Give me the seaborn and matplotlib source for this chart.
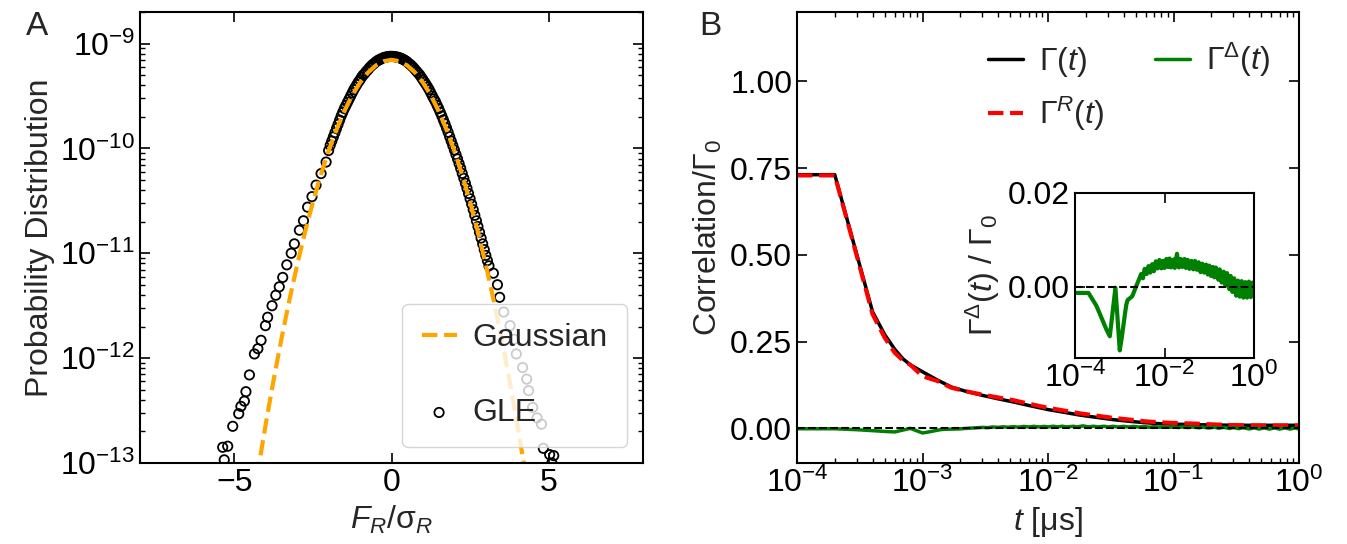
import numpy as np
import pandas as pd
import seaborn as sns
import matplotlib
import matplotlib.pyplot as plt
from matplotlib.ticker import LogLocator, NullFormatter, FormatStrFormatter
matplotlib.use('Agg')

#%% data: panel A, force distribution (log10 of probability)
gauss_x = [-4.5, -4.25, -4.0, -3.75, -3.5, -3.25, -3.0, -2.75, -2.5, -2.25, -2.0,
           -1.75, -1.5, -1.25, -1.0, -0.75, -0.5, -0.25, 0.0, 0.25, 0.5, 0.75,
           1.0, 1.25, 1.5, 1.75, 2.0, 2.25, 2.5, 2.75, 3.0, 3.25, 3.5, 3.75,
           4.0, 4.25, 4.5]
gauss_log = [-13.551, -13.076, -12.629, -12.208, -11.815, -11.448, -11.109,
             -10.797, -10.512, -10.254, -10.023, -9.820, -9.644, -9.494, -9.372,
             -9.277, -9.209, -9.169, -9.155, -9.169, -9.209, -9.277, -9.372,
             -9.494, -9.644, -9.820, -10.023, -10.254, -10.512, -10.797, -11.109,
             -11.448, -11.815, -12.208, -12.629, -13.076, -13.551]

gle_x = [-5.37, -5.32, -5.21, -5.05, -4.86, -4.79, -4.68, -4.63, -4.52, -4.36,
         -4.25, -4.15, -4.01, -3.94, -3.80, -3.68, -3.57, -3.46, -3.33, -3.19,
         -3.09, -2.93, -2.80, -2.67, -2.53, -2.40, -2.24, -2.08,
         -2.0, -1.9, -1.8, -1.7, -1.6, -1.5, -1.4, -1.3, -1.2, -1.1, -1.0,
         -0.9, -0.8, -0.7, -0.6, -0.5, -0.4, -0.3, -0.2, -0.1, 0.0, 0.1, 0.2,
         0.3, 0.4, 0.5, 0.6, 0.7, 0.8, 0.9, 1.0, 1.1, 1.2, 1.3, 1.4, 1.5, 1.6,
         1.7, 1.8, 1.9, 2.0, 2.1, 2.2, 2.3, 2.4, 2.5, 2.6, 2.7, 2.8, 2.9, 3.0,
         3.1, 3.24, 3.37, 3.44, 3.57, 3.77, 3.90, 3.97, 4.17, 4.30, 4.36, 4.49,
         4.63, 4.77, 4.83, 5.03, 5.10, 5.16,
         -1.95, -1.85, -1.75, -1.65, -1.55, -1.45, -1.35, -1.25, -1.15, -1.05,
         -0.95, -0.85, -0.75, -0.65, -0.55, -0.45, -0.35, -0.25, -0.15, -0.05,
         0.05, 0.15, 0.25, 0.35, 0.45, 0.55, 0.65, 0.75, 0.85, 0.95, 1.05, 1.15,
         1.25, 1.35, 1.45, 1.55, 1.65, 1.75, 1.85, 1.95, 2.05, 2.15, 2.25, 2.35,
         2.45, 2.55, 2.65, 2.75, 2.85, 2.95, 3.05]
gle_log = [-12.85, -12.97, -12.84, -12.65, -12.53, -12.46, -12.41, -12.32, -12.16,
           -11.96, -11.91, -11.83, -11.69, -11.61, -11.50, -11.40, -11.32, -11.23,
           -11.11, -11.00, -10.91, -10.78, -10.69, -10.56, -10.46, -10.35, -10.24,
           -10.13,
           -10.02, -9.93, -9.85, -9.77, -9.69, -9.62, -9.56, -9.50, -9.44, -9.39,
           -9.345, -9.30, -9.265, -9.23, -9.20, -9.175, -9.155, -9.14, -9.13,
           -9.125, -9.122, -9.125, -9.13, -9.14, -9.155, -9.175, -9.20, -9.23,
           -9.265, -9.30, -9.345, -9.39, -9.44, -9.50, -9.555, -9.62, -9.69,
           -9.765, -9.845, -9.93, -10.015, -10.10, -10.19, -10.285, -10.38,
           -10.48, -10.585, -10.69, -10.80, -10.91, -11.02, -11.12, -11.19, -11.30,
           -11.42, -11.56, -11.69, -11.82, -11.96, -12.09, -12.20, -12.31, -12.47,
           -12.57, -12.63, -12.86, -12.92, -13.0, -12.93,
           -9.97, -9.89, -9.81, -9.73, -9.655, -9.59, -9.53, -9.47, -9.415, -9.365,
           -9.32, -9.285, -9.25, -9.215, -9.19, -9.165, -9.15, -9.135, -9.127,
           -9.122, -9.123, -9.128, -9.136, -9.148, -9.165, -9.19, -9.215, -9.248,
           -9.283, -9.322, -9.368, -9.415, -9.47, -9.528, -9.588, -9.655, -9.728,
           -9.805, -9.888, -9.972, -10.058, -10.145, -10.238, -10.332, -10.43,
           -10.532, -10.638, -10.745, -10.855, -10.965, -11.07]

#%% data: panel B, correlation functions
t_gamma = [1e-4, 2e-4, 3e-4, 4e-4, 5e-4, 6e-4, 7e-4, 8e-4, 1e-3, 1.3e-3, 1.7e-3,
           2.2e-3, 3e-3, 4e-3, 5.3e-3, 7e-3, 1e-2, 1.4e-2, 1.8e-2, 2.5e-2, 3.3e-2,
           4.5e-2, 6e-2, 8e-2, 0.11, 0.15, 0.2, 0.28, 0.38, 0.55, 0.75, 1.0]
gamma = [0.731, 0.731, 0.500, 0.336, 0.270, 0.228, 0.200, 0.183, 0.163, 0.140,
         0.119, 0.107, 0.095, 0.085, 0.076, 0.066, 0.054, 0.045, 0.038, 0.031,
         0.025, 0.020, 0.016, 0.013, 0.0116, 0.0105, 0.0096, 0.0090, 0.0087,
         0.0087, 0.0087, 0.0087]
gamma_R = [0.729, 0.729, 0.496, 0.329, 0.261, 0.218, 0.195, 0.183, 0.150, 0.137,
           0.117, 0.107, 0.097, 0.089, 0.081, 0.071, 0.059, 0.050, 0.043, 0.036,
           0.030, 0.025, 0.020, 0.017, 0.015, 0.0135, 0.0115, 0.0095, 0.0085,
           0.0080, 0.0080, 0.0080]

t_delta = [1e-4, 2e-4, 3e-4, 4e-4, 5e-4, 6e-4, 7e-4, 8e-4, 9e-4, 1.0e-3, 1.1e-3,
           1.2e-3, 1.3e-3, 1.4e-3, 1.5e-3, 1.7e-3, 1.9e-3, 2.1e-3, 2.3e-3, 2.6e-3,
           0.0030, 0.0033, 0.0036, 0.0040, 0.0044, 0.0048, 0.0053, 0.0058, 0.0064,
           0.0070, 0.0077, 0.0085, 0.0093, 0.010, 0.011, 0.012, 0.013, 0.014, 0.016,
           0.017, 0.019, 0.021, 0.023, 0.025, 0.028, 0.030, 0.033, 0.036, 0.040,
           0.044, 0.048, 0.053, 0.058, 0.064, 0.070, 0.077, 0.085, 0.093, 0.10,
           0.11, 0.12, 0.13, 0.14, 0.16, 0.17, 0.19, 0.21, 0.23, 0.25, 0.28, 0.30,
           0.33, 0.36, 0.40, 0.44, 0.48, 0.53, 0.58, 0.64, 0.70, 0.77, 0.85, 0.93,
           1.0]
# in units of 1e-3
delta_milli = [-1.3, -1.3, -4.0, -6.8, -9.0, -10.5, -5.0, -0.2, -7.2, -13.5, -11.0,
               -8.4, -5.9, -3.8, -2.8, -2.4, -2.0, -1.0, 0.0, 1.2,
               2.7, 1.8, 3.8, 2.7, 4.4, 3.0, 4.8, 3.3, 5.4, 3.9, 5.7, 3.9, 5.5, 4.0,
               5.9, 4.2, 6.0, 4.1, 5.8, 4.0, 7.0, 4.1, 5.9, 4.2, 5.9, 4.0, 5.7, 3.8,
               5.5, 3.7, 5.5, 3.6, 5.2, 3.1, 4.9, 3.0, 4.7, 2.6, 4.5, 2.3, 4.2, 2.0,
               4.1, 1.5, 3.7, 0.9, 3.2, 0.3, 2.9, -0.5, 2.3, -1.1, 1.8, -1.9, 1.3,
               -2.1, 1.2, -2.3, 1.0, -2.3, 1.1, -2.2, 0.9, -1.8]

gamma_delta = np.array(delta_milli) * 1e-3

#%% style
sns.set_style("ticks")
plt.rcParams.update({
    'font.family': ['Liberation Sans', 'DejaVu Sans'],
    'mathtext.fontset': 'custom',
    'mathtext.rm': 'Liberation Sans',
    'mathtext.it': 'Liberation Sans:italic',
    'mathtext.bf': 'Liberation Sans:bold',
    'font.size': 23,
    'axes.edgecolor': 'black',
    'axes.linewidth': 1.5,
    'xtick.color': 'black', 'ytick.color': 'black',
    'xtick.direction': 'in', 'ytick.direction': 'in',
    'xtick.major.size': 7, 'ytick.major.size': 7,
    'xtick.minor.size': 3.5, 'ytick.minor.size': 3.5,
    'xtick.major.width': 1.2, 'ytick.major.width': 1.2,
    'xtick.minor.width': 1.0, 'ytick.minor.width': 1.0,
    'xtick.labelsize': 23, 'ytick.labelsize': 23,
    'axes.labelsize': 23, 'legend.fontsize': 23,
})

W, H = 1347, 544
fig = plt.figure(figsize=(W / 100, H / 100), dpi=100)
axA = fig.add_axes([140 / W, 81 / H, 503 / W, 451 / H])
axB = fig.add_axes([797 / W, 81 / H, 502 / W, 451 / H])
axIn = fig.add_axes([1075 / W, 186.5 / H, 179 / W, 165 / H])

#%% panel A
sns.lineplot(x=gauss_x, y=10 ** np.array(gauss_log), ax=axA, color='orange',
             lw=3, linestyle='--', label='Gaussian', sort=False, estimator=None)
sns.scatterplot(x=gle_x, y=10 ** np.array(gle_log), ax=axA, marker='o', s=45,
                facecolor='none', edgecolor='black', linewidth=1.3, label='GLE')
axA.set_yscale('log')
axA.set_xlim(-8, 8)
axA.set_ylim(1e-13, 2e-9)
axA.set_xticks([-5, 0, 5])
axA.yaxis.set_minor_locator(LogLocator(base=10, subs=np.arange(2, 10)))
axA.yaxis.set_minor_formatter(NullFormatter())
axA.tick_params(which='both', top=True, right=True)
axA.set_xlabel(r'$F_R/\mathrm{\sigma}_R$')
axA.set_ylabel('Probability Distribution')
axA.legend(loc='lower right', handlelength=1.1, handletextpad=0.5,
           labelspacing=1.4, borderpad=0.6, edgecolor='0.8', framealpha=0.8,
           scatterpoints=1)

#%% panel B
sns.lineplot(x=t_gamma, y=gamma, ax=axB, color='black', lw=2.5,
             label=r'$\Gamma(t)$', estimator=None)
sns.lineplot(x=t_gamma, y=gamma_R, ax=axB, color='red', lw=3, linestyle='--',
             label=r'$\Gamma^R(t)$', estimator=None)
sns.lineplot(x=t_delta, y=gamma_delta, ax=axB, color='green', lw=2.5,
             label=r'$\Gamma^\Delta(t)$', estimator=None)
axB.axhline(0, color='black', ls='--', lw=1.5)
axB.set_xscale('log')
axB.set_xlim(1e-4, 1)
axB.set_ylim(-0.1, 1.2)
axB.set_yticks([0, 0.25, 0.5, 0.75, 1.0])
axB.yaxis.set_major_formatter(FormatStrFormatter('%.2f'))
axB.xaxis.set_minor_locator(LogLocator(base=10, subs=np.arange(2, 10)))
axB.xaxis.set_minor_formatter(NullFormatter())
axB.tick_params(which='both', top=True, right=True)
axB.set_xlabel(r'$t$ [μs]')
axB.set_ylabel(r'Correlation/$\Gamma_0$')
axB.legend(ncol=2, loc='upper right', frameon=False, handlelength=1.1,
           handletextpad=0.5, columnspacing=1.6)

#%% inset
sns.lineplot(x=t_delta, y=gamma_delta, ax=axIn, color='green', lw=3,
             legend=False, estimator=None)
axIn.axhline(0, color='black', ls='--', lw=1.5)
axIn.set_xscale('log')
axIn.set_xlim(1e-4, 1)
axIn.set_ylim(-0.015, 0.02)
axIn.set_xticks([1e-4, 1e-2, 1])
axIn.xaxis.set_minor_locator(LogLocator(base=10, subs=np.arange(1, 10)))
axIn.xaxis.set_minor_formatter(NullFormatter())
axIn.set_yticks([0, 0.02])
axIn.yaxis.set_major_formatter(FormatStrFormatter('%.2f'))
axIn.tick_params(which='both', top=True, right=True)
axIn.set_xlabel('')
axIn.set_ylabel(r'$\Gamma^\Delta(t)\ /\ \Gamma_0$')

fig.text(26 / W, 1 - 35 / H, 'A', fontsize=24, va='baseline')
fig.text(699 / W, 1 - 35 / H, 'B', fontsize=24, va='baseline')

fig.savefig('out.png', dpi=100)
